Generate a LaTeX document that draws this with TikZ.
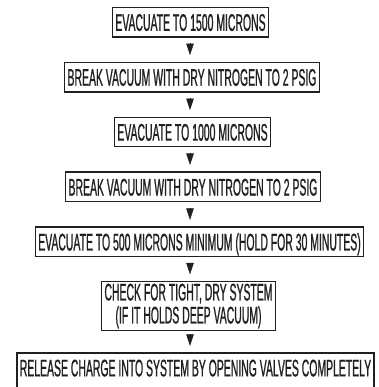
\documentclass[tikz,border=0pt]{standalone}
\usepackage{fontspec}
\usepackage{xcolor}
\usepackage{tikz}
\usetikzlibrary{positioning, arrows.meta}
\newfontfamily\stepfont{Liberation Sans}[FakeStretch=0.435, FakeBold=0.8]
\definecolor{inkblack}{HTML}{231F20}
\tikzset{
  stepbase/.style={draw=inkblack, line width=1.4pt, text=inkblack, inner xsep=3pt,
                   font=\stepfont\fontsize{24}{23}\selectfont},
  stepbox/.style={stepbase, inner ysep=6.15pt, text height=17.2pt, text depth=0pt},
  stepwrap/.style={stepbase, align=center, inner ysep=2.2pt},
  flowarrow/.style={-{Triangle[length=11.5pt, width=7.5pt]}, line width=0.6pt, draw=inkblack,
                    fill=inkblack, shorten <=5.5pt, shorten >=6.5pt}
}

\begin{document}
\begin{tikzpicture}
    \useasboundingbox (0,0) rectangle (378pt,-387pt);
    \coordinate (spine) at (190pt,0);
    \node[stepbox] (evac1500) at (190.5pt,-22.25pt) {EVACUATE TO 1500 MICRONS};
    \node[stepbox, below=24pt of evac1500, xshift=1.5pt] (break1) {BREAK VACUUM WITH DRY NITROGEN TO 2 PSIG};
    \node[stepbox, below=24pt of break1, xshift=0.5pt] (evac1000) {EVACUATE TO 1000 MICRONS};
    \node[stepbox, below=24pt of evac1000, xshift=0.5pt] (break2) {BREAK VACUUM WITH DRY NITROGEN TO 2 PSIG};
    \node[stepbox, below=24pt of break2, xshift=6.5pt] (evac500) {EVACUATE TO 500 MICRONS MINIMUM (HOLD FOR 30 MINUTES)};
    \node[stepwrap, below=23.5pt of evac500, xshift=-11pt] (check) {CHECK FOR TIGHT, DRY SYSTEM\\(IF IT HOLDS DEEP VACUUM)};
    \node[stepbox, text depth=26pt, below=21pt of check, xshift=7pt] (release)
      {RELEASE CHARGE INTO SYSTEM BY OPENING VALVES COMPLETELY};

    \draw[flowarrow] (evac1500.south -| spine) -- (break1.north -| spine);
    \draw[flowarrow] (break1.south -| spine) -- (evac1000.north -| spine);
    \draw[flowarrow] (evac1000.south -| spine) -- (break2.north -| spine);
    \draw[flowarrow] (break2.south -| spine) -- (evac500.north -| spine);
    \draw[flowarrow] (evac500.south -| spine) -- (check.north -| spine);
    \draw[flowarrow] (check.south -| spine) -- (release.north -| spine);
  \end{tikzpicture}
\end{document}
